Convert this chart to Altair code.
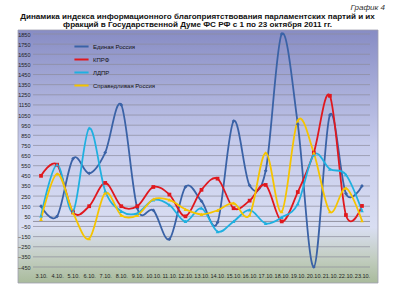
import altair as alt
import pandas as pd

dates = ["3.10.", "4.10.", "5.10.", "6.10.", "7.10.", "8.10.", "9.10.", "10.10.", "11.10.",
         "12.10.", "13.10.", "14.10.", "15.10.", "16.10.", "17.10.", "18.10.", "19.10.",
         "20.10.", "21.10.", "22.10.", "23.10."]
series = ["Единая Россия", "КПРФ", "ЛДПР", "Справедливая Россия"]
er = [150, 50, 620, 475, 680, 1150, 130, 110, -175, 340, 200, -10, 990, 355, 500, 1850, 960, -450, 1050, 275, 350]
kprf = [450, 560, 90, 150, 380, 150, 150, 340, 265, 50, 312, 422, 130, 205, 360, 0, 290, 680, 1240, 63, 153]
ldpr = [55, 560, 100, 920, 300, 100, 80, 212, 163, 0, 130, -100, 0, 113, -20, 40, 173, 660, 517, 461, 106]
sr = [20, 470, 85, -170, 280, 60, 60, 219, 212, 120, 70, 110, 180, 63, 676, 96, 995, 676, 96, 328, 7]
colors = ["#3a62a6", "#e0181e", "#1fb0e0", "#f5c400"]
shapes = ["diamond", "square", "triangle-up", "triangle-up"]
y_ticks = list(range(-450, 1851, 100))

title_lines = ["Динамика индекса информационного благоприятствования парламентских партий и их",
               "фракций в Государственной Думе ФС РФ с 1 по 23 октября 2011 гг."]
chart_label = "График 4"

rows = []
for name, vals in zip(series, [er, kprf, ldpr, sr]):
    for d, v in zip(dates, vals):
        rows.append({"date": d, "series": name, "value": v})
df = pd.DataFrame(rows)

W, H = 337, 233
FONT = "Liberation Sans"

yscale = alt.Scale(domain=[-450, 1850], nice=False, zero=False)
yaxis = alt.Axis(title=None, values=y_ticks, format="d", labelFontSize=5.5, labelFont=FONT,
                 labelColor="#222", domain=False, ticks=False, grid=False,
                 labelPadding=3, zindex=1)
xenc = alt.X("date:O", sort=dates, scale=alt.Scale(type="point", padding=0.5),
             axis=alt.Axis(title=None, labelAngle=0, labelFontSize=5.5, labelFont=FONT,
                           labelColor="#222", domain=False, ticks=False, labelPadding=6,
                           zindex=1))
yenc = alt.Y("value:Q", scale=yscale, axis=yaxis)
cscale = alt.Scale(domain=series, range=colors)

grad = alt.Gradient(
    gradient="linear", x1=0, x2=0, y1=0, y2=1,
    stops=[
        alt.GradientStop(color="#878cc4", offset=0),
        alt.GradientStop(color="#c6cbec", offset=0.45),
        alt.GradientStop(color="#d9def2", offset=0.78),
        alt.GradientStop(color="#c3cec2", offset=0.9),
        alt.GradientStop(color="#a9bb9c", offset=1),
    ],
)

bg = alt.Chart(pd.DataFrame({"a": [0]})).mark_rect(fill=grad, stroke="#a0a0b0", strokeWidth=0.8).encode(
    x=alt.value(-15), x2=alt.value(W + 8), y=alt.value(-4), y2=alt.value(H + 16)
)

grid = alt.Chart(pd.DataFrame({"value": y_ticks})).mark_rule(color="#8c8c9c", strokeWidth=0.7).encode(
    y=alt.Y("value:Q", scale=yscale, axis=yaxis), x=alt.value(0), x2=alt.value(W)
)

zero = alt.Chart(pd.DataFrame({"value": [0]})).mark_rule(color="#9090a0", strokeWidth=1).encode(
    y=alt.Y("value:Q", scale=yscale, axis=yaxis), x=alt.value(0), x2=alt.value(W)
)

lines = alt.Chart(df).mark_line(interpolate="cardinal", tension=0, strokeWidth=1.8).encode(
    x=xenc, y=yenc,
    color=alt.Color("series:N", scale=cscale, sort=series,
                    legend=alt.Legend(title=None, orient="none", legendX=40, legendY=4,
                                      symbolType="stroke", symbolSize=200, symbolStrokeWidth=2,
                                      labelFontSize=6, labelFont=FONT, labelColor="#111",
                                      rowPadding=0, labelOffset=3)),
    detail="series:N",
)

point_layers = []
for name, col, shp in zip(series, colors, shapes):
    point_layers.append(
        alt.Chart(df).transform_filter(alt.datum.series == name)
        .mark_point(filled=True, size=14, opacity=1, shape=shp, color=col)
        .encode(x=xenc, y=yenc)
    )

label = alt.Chart(pd.DataFrame({"t": [chart_label]})).mark_text(
    align="right", baseline="middle", fontSize=8, fontStyle="italic", font=FONT, color="#333"
).encode(text="t:N", x=alt.value(W + 15), y=alt.value(-26))

title_layers = []
for line, ypos in zip(title_lines, [-17, -9]):
    title_layers.append(
        alt.Chart(pd.DataFrame({"t": [line]})).mark_text(
            align="center", baseline="middle", fontSize=8.1, fontWeight="bold",
            font=FONT, color="#111"
        ).encode(text="t:N", x=alt.value(W / 2 - 4), y=alt.value(ypos))
    )

chart = alt.layer(bg, grid, zero, lines, *point_layers, label, *title_layers).properties(
    width=W, height=H,
    autosize=alt.AutoSizeParams(type="none"),
    padding={"left": 33, "top": 34, "right": 23, "bottom": 33},
).configure_view(stroke=None)

chart.save("out.html", embed_options={"renderer": "svg", "actions": False})
